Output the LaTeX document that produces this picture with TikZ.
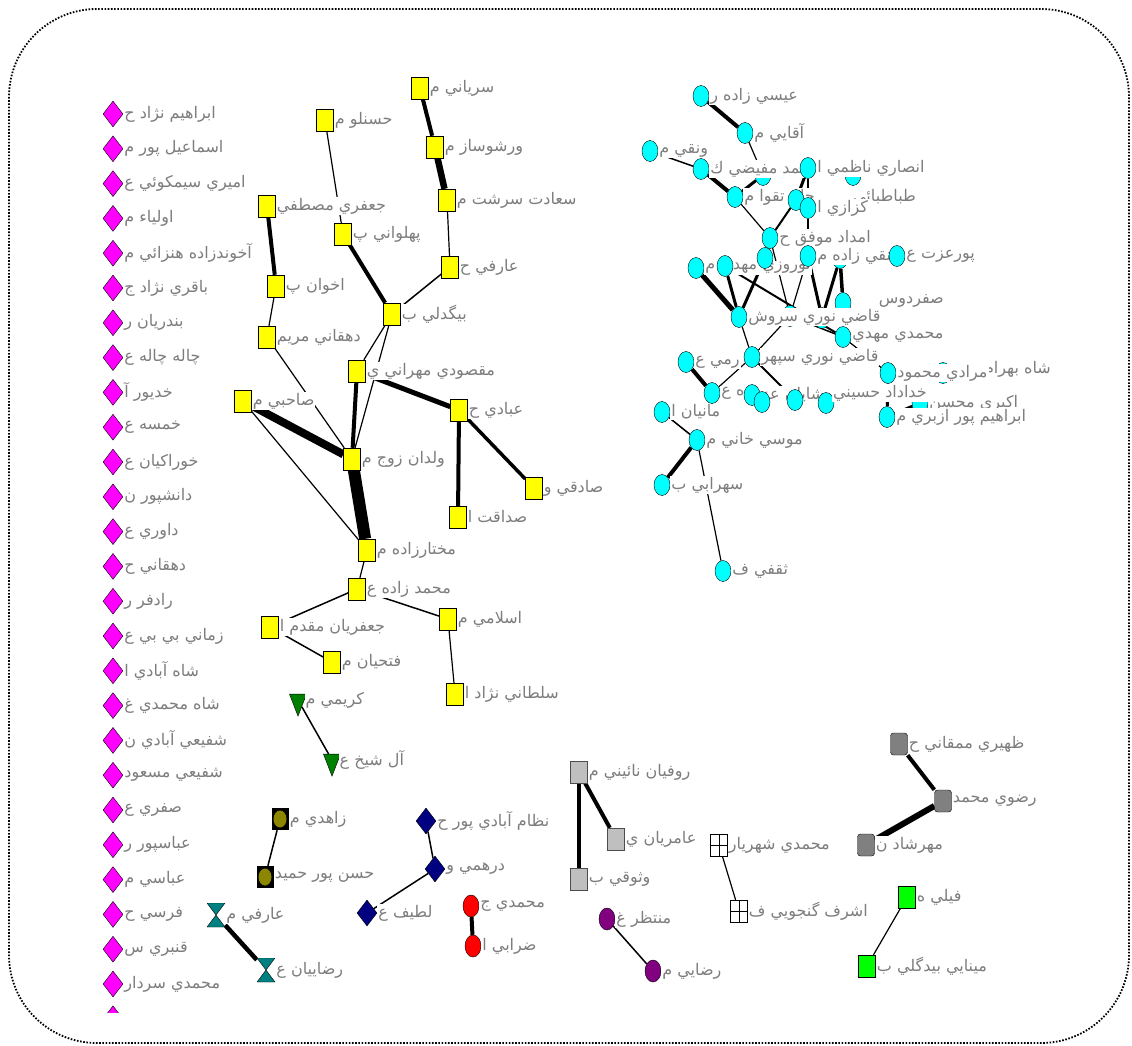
\documentclass[tikz,border=0pt]{standalone}
\usepackage{fontspec}
\usepackage{tikz}
\usetikzlibrary{shapes.geometric, backgrounds}
\usepackage{xcolor}
\newfontfamily\arabicfont[Script=Arabic]{DejaVu Sans}
\TeXXeTstate=1
\definecolor{labgray}{RGB}{125,125,125}
\definecolor{magpink}{RGB}{255,0,255}
\definecolor{cyanblue}{RGB}{0,255,255}
\definecolor{ylw}{RGB}{255,255,0}
\definecolor{navyblue}{RGB}{0,0,128}
\definecolor{darkgreen}{RGB}{0,128,0}
\definecolor{purp}{RGB}{128,0,128}

\begin{document}
\begin{tikzpicture}[x=1pt, y=-1pt,
    lbl/.style={text=labgray, fill=white, inner sep=1pt, font=\arabicfont\fontsize{16}{19}\selectfont},
    tie/.style={line width=#1pt}, tie/.default=1.2,
    mag/.style={diamond, draw, fill=magpink, minimum width=20pt, minimum height=26pt, inner sep=0pt},
    ysq/.style={rectangle, draw, fill=ylw, minimum width=17pt, minimum height=22pt, inner sep=0pt},
    cyn/.style={ellipse, draw, fill=cyanblue, minimum width=16pt, minimum height=21pt, inner sep=0pt},
    gtri/.style={isosceles triangle, isosceles triangle stretches, shape border rotate=270, draw, fill=darkgreen, minimum width=17pt, minimum height=22pt, inner sep=0pt},
    olsq/.style={rectangle, fill=black, minimum width=17pt, minimum height=22pt, inner sep=0pt,
        path picture={\fill[olive] (path picture bounding box.center) ellipse (6.5pt and 8.5pt);}},
    ndia/.style={diamond, draw, fill=navyblue, minimum width=20pt, minimum height=26pt, inner sep=0pt},
    hglass/.style={rectangle, minimum width=18pt, minimum height=24pt, inner sep=0pt,
        path picture={\filldraw[fill=teal, draw=black] (path picture bounding box.north west) -- (path picture bounding box.north east) -- (path picture bounding box.south west) -- (path picture bounding box.south east) -- cycle;}},
    redov/.style={ellipse, draw, fill=red, minimum width=16pt, minimum height=22pt, inner sep=0pt},
    lgsq/.style={rectangle, draw=black!70, fill=lightgray, minimum width=17pt, minimum height=22pt, inner sep=0pt},
    gridsq/.style={rectangle, draw, fill=white, minimum width=17pt, minimum height=22pt, inner sep=0pt,
        path picture={\draw (path picture bounding box.north) -- (path picture bounding box.south) (path picture bounding box.west) -- (path picture bounding box.east);}},
    dgsq/.style={rectangle, rounded corners=3pt, draw, fill=gray, minimum width=17pt, minimum height=22pt, inner sep=0pt},
    gsq/.style={rectangle, draw, fill=green, minimum width=17pt, minimum height=22pt, inner sep=0pt},
    purov/.style={ellipse, draw, fill=purp, minimum width=16pt, minimum height=22pt, inner sep=0pt}]

    \useasboundingbox (0,0) rectangle (1132,1046);
    \draw[line width=1.8pt, dash pattern=on 1.6pt off 1.6pt, rounded corners=88pt] (9,9) rectangle (1129,1043);

    % Isolates
    \node[mag, label={[lbl]right:{\beginR ابراهيم نژاد ح\endR}}] (m1) at (113,114) {};
    \node[mag, label={[lbl]right:{\beginR اسماعيل پور م\endR}}] (m2) at (113,148.8) {};
    \node[mag, label={[lbl]right:{\beginR اميري سيمكوئي ع\endR}}] (m3) at (113,183.6) {};
    \node[mag, label={[lbl]right:{\beginR اولياء م\endR}}] (m4) at (113,218.4) {};
    \node[mag, label={[lbl]right:{\beginR آخوندزاده هنزائي م\endR}}] (m5) at (113,253.2) {};
    \node[mag, label={[lbl]right:{\beginR باقري نژاد ج\endR}}] (m6) at (113,288) {};
    \node[mag, label={[lbl]right:{\beginR بندريان ر\endR}}] (m7) at (113,322.8) {};
    \node[mag, label={[lbl]right:{\beginR چاله چاله ع\endR}}] (m8) at (113,357.6) {};
    \node[mag, label={[lbl]right:{\beginR خديور آ\endR}}] (m9) at (113,392.4) {};
    \node[mag, label={[lbl]right:{\beginR خمسه ع\endR}}] (m10) at (113,427.2) {};
    \node[mag, label={[lbl]right:{\beginR خوراكيان ع\endR}}] (m11) at (113,462) {};
    \node[mag, label={[lbl]right:{\beginR دانشپور ن\endR}}] (m12) at (113,496.8) {};
    \node[mag, label={[lbl]right:{\beginR داوري ع\endR}}] (m13) at (113,531.6) {};
    \node[mag, label={[lbl]right:{\beginR دهقاني ح\endR}}] (m14) at (113,566.4) {};
    \node[mag, label={[lbl]right:{\beginR رادفر ر\endR}}] (m15) at (113,601.2) {};
    \node[mag, label={[lbl]right:{\beginR زماني بي بي ع\endR}}] (m16) at (113,636) {};
    \node[mag, label={[lbl]right:{\beginR شاه آبادي ا\endR}}] (m17) at (113,670.8) {};
    \node[mag, label={[lbl]right:{\beginR شاه محمدي غ\endR}}] (m18) at (113,705.6) {};
    \node[mag, label={[lbl]right:{\beginR شفيعي آبادي ن\endR}}] (m19) at (113,740.4) {};
    \node[mag, label={[lbl]right:{\beginR شفيعي مسعود\endR}}] (m20) at (113,775.2) {};
    \node[mag, label={[lbl]right:{\beginR صفري ع\endR}}] (m21) at (113,810) {};
    \node[mag, label={[lbl]right:{\beginR عباسپور ر\endR}}] (m22) at (113,844.8) {};
    \node[mag, label={[lbl]right:{\beginR عباسي م\endR}}] (m23) at (113,879.6) {};
    \node[mag, label={[lbl]right:{\beginR فرسي ح\endR}}] (m24) at (113,914.4) {};
    \node[mag, label={[lbl]right:{\beginR قنبري س\endR}}] (m25) at (113,949.2) {};
    \node[mag, label={[lbl]right:{\beginR محمدي سردار\endR}}] (m26) at (113,984) {};
    \begin{scope}
        \clip (0,0) rectangle (1132,1012);
        \node[mag] (m27) at (113,1018.8) {};
    \end{scope}

    % Yellow component
    \node[ysq, label={[lbl]right:{\beginR سرياني م\endR}}] (sry) at (420,88) {};
    \node[ysq, label={[lbl]right:{\beginR حسنلو م\endR}}] (hsn) at (325,120) {};
    \node[ysq, label={[lbl]right:{\beginR ورشوساز م\endR}}] (vrs) at (435,147) {};
    \node[ysq, label={[lbl]right:{\beginR سعادت سرشت م\endR}}] (sad) at (447,200) {};
    \node[ysq, label={[lbl]right:{\beginR جعفري مصطفي\endR}}] (jaf) at (267,206) {};
    \node[ysq, label={[lbl]right:{\beginR پهلواني پ\endR}}] (pah) at (343,234) {};
    \node[ysq, label={[lbl]right:{\beginR عارفي ح\endR}}] (arh) at (450,267) {};
    \node[ysq, label={[lbl]right:{\beginR اخوان پ\endR}}] (akh) at (276,286) {};
    \node[ysq, label={[lbl]right:{\beginR بيگدلي ب\endR}}] (big) at (392,314) {};
    \node[ysq, label={[lbl]right:{\beginR دهقاني مريم\endR}}] (dhm) at (267,337) {};
    \node[ysq, label={[lbl]right:{\beginR مقصودي مهراني ي\endR}}] (mqs) at (357,371) {};
    \node[ysq, label={[lbl]right:{\beginR صاحبي م\endR}}] (sah) at (243,401) {};
    \node[ysq, label={[lbl]right:{\beginR عبادي ح\endR}}] (ebd) at (459,410) {};
    \node[ysq, label={[lbl]right:{\beginR ولدان زوج م\endR}}] (vld) at (352,459) {};
    \node[ysq, label={[lbl]right:{\beginR صادقي و\endR}}] (sdq) at (534,488) {};
    \node[ysq, label={[lbl]right:{\beginR صداقت ا\endR}}] (sdt) at (458,517) {};
    \node[ysq, label={[lbl]right:{\beginR مختارزاده م\endR}}] (mkh) at (367,550) {};
    \node[ysq, label={[lbl]right:{\beginR محمد زاده ع\endR}}] (mhz) at (357,589) {};
    \node[ysq, label={[lbl]right:{\beginR جعفريان مقدم ا\endR}}] (jfr) at (270,627) {};
    \node[ysq, label={[lbl]right:{\beginR اسلامي م\endR}}] (esl) at (448,619) {};
    \node[ysq, label={[lbl]right:{\beginR فتحيان م\endR}}] (fth) at (332,662) {};
    \node[ysq, label={[lbl]right:{\beginR سلطاني نژاد ا\endR}}] (slt) at (455,694) {};

    % Small components
    \node[gtri, label={[lbl]right:{\beginR كريمي م\endR}}] (krm) at (298,700) {};
    \node[gtri, label={[lbl]right:{\beginR آل شيخ ع\endR}}] (als) at (332,760) {};
    \node[olsq, label={[lbl]right:{\beginR زاهدي م\endR}}] (zhd) at (280,819) {};
    \node[olsq, label={[lbl]right:{\beginR حسن پور حميد\endR}}] (hpr) at (265,877) {};
    \node[ndia, label={[lbl]right:{\beginR نظام آبادي پور ح\endR}}] (nzm) at (426,821) {};
    \node[ndia, label={[lbl]right:{\beginR درهمي و\endR}}] (drh) at (435,869) {};
    \node[ndia, label={[lbl]right:{\beginR لطيف ع\endR}}] (ltf) at (367,913) {};
    \node[hglass, label={[lbl]right:{\beginR عارفي م\endR}}] (arm) at (216,915) {};
    \node[hglass, label={[lbl]right:{\beginR رضاييان ع\endR}}] (rzy) at (266,970) {};
    \node[redov, label={[lbl]right:{\beginR محمدي ج\endR}}] (mhj) at (471,906) {};
    \node[redov, label={[lbl]right:{\beginR ضرابي ا\endR}}] (zrb) at (473,946) {};
    \node[lgsq, label={[lbl]right:{\beginR روفيان نائيني م\endR}}] (rfn) at (579,772) {};
    \node[lgsq, label={[lbl]right:{\beginR عامريان ي\endR}}] (amr) at (616,839) {};
    \node[lgsq, label={[lbl]right:{\beginR وثوقي ب\endR}}] (vsq) at (579,879) {};
    \node[gridsq, label={[lbl]right:{\beginR محمدي شهريار\endR}}] (msh) at (719,845) {};
    \node[gridsq, label={[lbl]right:{\beginR اشرف گنجويي ف\endR}}] (ash) at (739,911) {};
    \node[dgsq, label={[lbl]right:{\beginR ظهيري ممقاني ح\endR}}] (zhr) at (899,744) {};
    \node[dgsq, label={[lbl]right:{\beginR رضوي محمد\endR}}] (rzv) at (943,801) {};
    \node[dgsq, label={[lbl]right:{\beginR مهرشاد ن\endR}}] (mhr) at (866,845) {};
    \node[gsq, label={[lbl]right:{\beginR فيلي ه\endR}}] (fyl) at (907,897) {};
    \node[gsq, label={[lbl]right:{\beginR مينايي بيدگلي ب\endR}}] (myn) at (867,966) {};
    \node[purov, label={[lbl]right:{\beginR منتظر غ\endR}}] (mnt) at (607,919) {};
    \node[purov, label={[lbl]right:{\beginR رضايي م\endR}}] (rza) at (653,971) {};

    % Cyan component
    \node[cyn, label={[lbl]right:{\beginR عيسي زاده ر\endR}}] (c1) at (701,96) {};
    \node[cyn, label={[lbl]right:{\beginR آقايي م\endR}}] (c2) at (745,133) {};
    \node[cyn] (h1) at (763,175) {};
    \node[cyn, label={[lbl]right:{\beginR ونقي م\endR}}] (c3) at (650,151) {};
    \node[cyn, label={[lbl]right:{\beginR احمد مفيضي ك\endR}}] (c4) at (701,169) {};
    \node[cyn] (h2) at (853,175) {};
    \node[cyn, label={[lbl]right:{\beginR انصاري ناظمي ا\endR}}] (c6) at (808,168) {};
    \node[cyn, label={[lbl]right:{\beginR حاج تقوا م\endR}}] (c5) at (735,197) {};
    \node[lbl, anchor=east] (t7) at (917,197) {\beginR طباطبائي\endR};
    \node[cyn] (c7) at (796,200) {};
    \node[cyn, label={[lbl]right:{\beginR كزازي ا\endR}}] (c8) at (808,208) {};
    \node[cyn, label={[lbl]right:{\beginR امداد موفق ح\endR}}] (c9) at (770,238) {};
    \node[cyn, label={[lbl]right:{\beginR نوروزي مهدي م\endR}}] (c13) at (696,268) {};
    \node[cyn] (c14) at (725,266) {};
    \node[cyn] (c10) at (765,258) {};
    \node[cyn] (h5) at (840,258) {};
    \node[cyn, label={[lbl]right:{\beginR نقي زاده م\endR}}] (c11) at (808,256) {};
    \node[cyn, label={[lbl]right:{\beginR پورعزت ع\endR}}] (c12) at (897,256) {};
    \node[cyn] (h3) at (790,316) {};
    \node[cyn] (h4) at (822,318) {};
    \node[cyn] (c16) at (843,303) {};
    \node[cyn, label={[lbl]right:{\beginR قاضي نوري سروش\endR}}] (c15) at (739,317) {};
    \node[lbl, anchor=east] (t16) at (945,301) {\beginR صفردوس\endR};
    \node[cyn, label={[lbl]right:{\beginR محمدي مهدي\endR}}] (c17) at (843,337) {};
    \node[cyn, label={[lbl]right:{\beginR رمي ع\endR}}] (c19) at (686,362) {};
    \node[cyn, label={[lbl]right:{\beginR قاضي نوري سپهر\endR}}] (c18) at (752,357) {};
    \node[cyn, label={[lbl]right:{\beginR ه ع\endR}}] (c20) at (712,393) {};
    \node[cyn, label={[lbl]right:{\beginR شايان عز\endR}}] (c21) at (752,395) {};
    \node[cyn] (c22) at (762,402) {};
    \node[cyn] (c23) at (795,400) {};
    \node[cyn] (c24) at (826,403) {};
    \node[cyn] (c32) at (943,373) {};
    \node[lbl, anchor=east] (t32) at (1052,369) {\beginR شاه بهرام\endR};
    \node[cyn, label={[lbl]right:{\beginR مرادي محمود\endR}}] (c25) at (888,373) {};
    \node[cyn, label={[lbl]right:{\beginR اكبري محسن\endR}}] (c26) at (920,403) {};
    \node[lbl, anchor=east] (t23) at (928,393) {\beginR خداداد حسيني\endR};
    \node[cyn, label={[lbl]right:{\beginR ابراهيم پور ازبري م\endR}}] (c27) at (887,417) {};
    \node[cyn, label={[lbl]right:{\beginR مانيان ا\endR}}] (c28) at (662,412) {};
    \node[cyn, label={[lbl]right:{\beginR موسي خاني م\endR}}] (c29) at (697,440) {};
    \node[cyn, label={[lbl]right:{\beginR سهرابي ب\endR}}] (c30) at (662,485) {};
    \node[cyn, label={[lbl]right:{\beginR ثقفي ف\endR}}] (c31) at (723,571) {};

    \begin{scope}[on background layer]
        % Yellow ties
        \draw[tie=4] (sry) -- (vrs);
        \draw[tie=6.5] (vrs) -- (sad);
        \draw[tie] (sad) -- (arh);
        \draw[tie=1.5] (arh) -- (big);
        \draw[tie] (hsn) -- (pah);
        \draw[tie=4] (jaf) -- (akh);
        \draw[tie] (akh) -- (dhm);
        \draw[tie=4] (pah) -- (big);
        \draw[tie] (big) -- (mqs);
        \draw[tie] (big) -- (vld);
        \draw[tie] (dhm) -- (vld);
        \draw[tie=4] (mqs) -- (vld);
        \draw[tie=5] (mqs) -- (ebd);
        \draw[tie=8] (sah) -- (vld);
        \draw[tie] (sah) -- (mkh);
        \draw[tie=12] (vld) -- (mkh);
        \draw[tie=4] (ebd) -- (sdt);
        \draw[tie=3.5] (ebd) -- (sdq);
        \draw[tie] (mkh) -- (mhz);
        \draw[tie=1.5] (mhz) -- (jfr);
        \draw[tie=1.5] (mhz) -- (esl);
        \draw[tie=1.5] (jfr) -- (fth);
        \draw[tie] (esl) -- (slt);

        % Small ties
        \draw[tie=1.5] (krm) -- (als);
        \draw[tie=1.5] (zhd) -- (hpr);
        \draw[tie=1.5] (nzm) -- (drh);
        \draw[tie=1.5] (drh) -- (ltf);
        \draw[tie=4.5] (arm) -- (rzy);
        \draw[tie=4] (mhj) -- (zrb);
        \draw[tie=4] (rfn) -- (amr);
        \draw[tie=3.5] (rfn) -- (vsq);
        \draw[tie] (msh) -- (ash);
        \draw[tie=4] (zhr) -- (rzv);
        \draw[tie=6] (rzv) -- (mhr);
        \draw[tie] (fyl) -- (myn);
        \draw[tie=1.5] (mnt) -- (rza);

        % Cyan ties
        \draw[tie=4] (c1) -- (c2);
        \draw[tie] (c2) -- (h1);
        \draw[tie=1.5] (c3) -- (c4);
        \draw[tie=4] (c4) -- (c5);
        \draw[tie=3] (c5) -- (h1);
        \draw[tie] (c5) -- (c9);
        \draw[tie=3] (c6) -- (c7);
        \draw[tie] (c6) -- (c8);
        \draw[tie=2] (c7) -- (c9);
        \draw[tie] (c8) -- (c11);
        \draw[tie] (c9) -- (c10);
        \draw[tie] (c9) -- (h3);
        \draw[tie=5] (c13) -- (c15);
        \draw[tie=3] (c14) -- (c15);
        \draw[tie=3] (c10) -- (c15);
        \draw[tie=2] (c14) -- (c17);
        \draw[tie] (c11) -- (h3);
        \draw[tie=3] (c11) -- (h4);
        \draw[tie=3] (h5) -- (h4);
        \draw[tie=3.5] (h5) -- (c16);
        \draw[tie=1.5] (h3) -- (c17);
        \draw[tie] (c15) -- (c18);
        \draw[tie] (c18) -- (h3);
        \draw[tie] (c18) -- (c20);
        \draw[tie=2] (c18) -- (c23);
        \draw[tie=4] (c19) -- (c20);
        \draw[tie] (c25) -- (c17);
        \draw[tie=3] (c25) -- (c27);
        \draw[tie=3] (c26) -- (c27);
        \draw[tie=1.5] (c28) -- (c29);
        \draw[tie=4] (c29) -- (c30);
        \draw[tie] (c29) -- (c31);
    \end{scope}
\end{tikzpicture}
\end{document}
